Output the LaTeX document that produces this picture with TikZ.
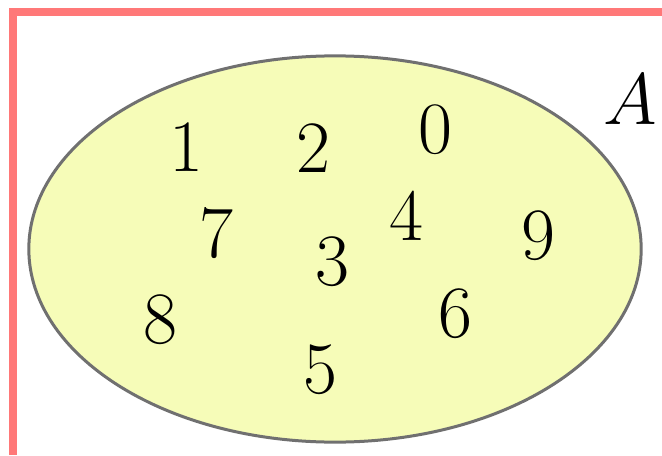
\documentclass[tikz,border=0pt]{standalone}
\definecolor{rahmenrot}{RGB}{255,120,120}
\definecolor{mengengelb}{RGB}{246,252,184}
\definecolor{randgrau}{RGB}{112,112,112}
\usetikzlibrary{shapes.geometric}

\begin{document}
\begin{tikzpicture}[x=0.01cm, y=-0.01cm]
    \useasboundingbox (0,0) rectangle (662,455);
    \draw[rahmenrot, line width=0.08cm] (13,455) -- (13,12) -- (662,12);
    \node[ellipse, draw=randgrau, fill=mengengelb, line width=0.03cm,
          minimum width=6.12cm, minimum height=3.86cm, inner sep=0pt]
          (menge) at (335,249) {};
    \node[font=\fontsize{22}{26}\selectfont] (name) at (630,100) {$A$};
    \foreach \x/\y/\el in {%
      186/147/1, 313/148/2, 435/130/0,
      216/233/7, 406/216/4, 538/236/9,
      332/262/3, 160/320/8, 455/314/6,
      320/370/5}{%
      \node[font=\fontsize{21}{25}\selectfont] (el\el) at (\x,\y) {\el};
    }
  \end{tikzpicture}
\end{document}
